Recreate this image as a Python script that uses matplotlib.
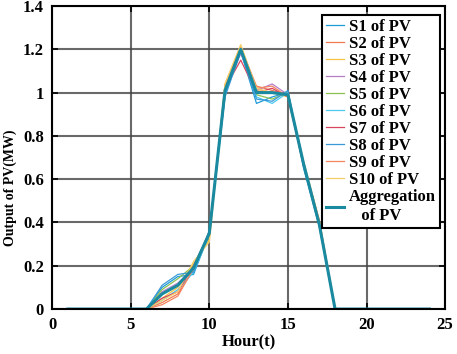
import numpy as np
import matplotlib
matplotlib.use("Agg")
import matplotlib.pyplot as plt
from matplotlib.ticker import FuncFormatter

plt.rcParams['font.family'] = ['Liberation Serif', 'DejaVu Serif']
plt.rcParams['font.weight'] = 'bold'

hours = list(range(1, 25))

s1  = [0, 0, 0, 0, 0, 0, 0.10, 0.15, 0.16, 0.35, 0.99, 1.19, 0.95, 0.98, 1.00, 0.66, 0.39, 0, 0, 0, 0, 0, 0, 0]
s2  = [0, 0, 0, 0, 0, 0, 0.03, 0.07, 0.18, 0.34, 1.03, 1.21, 1.03, 1.01, 0.99, 0.67, 0.40, 0, 0, 0, 0, 0, 0, 0]
s3  = [0, 0, 0, 0, 0, 0, 0.05, 0.10, 0.21, 0.32, 1.04, 1.22, 1.01, 1.00, 0.98, 0.68, 0.41, 0, 0, 0, 0, 0, 0, 0]
s4  = [0, 0, 0, 0, 0, 0, 0.08, 0.12, 0.19, 0.36, 1.01, 1.18, 1.01, 1.04, 0.99, 0.66, 0.39, 0, 0, 0, 0, 0, 0, 0]
s5  = [0, 0, 0, 0, 0, 0, 0.09, 0.14, 0.20, 0.35, 1.02, 1.20, 0.99, 0.97, 1.00, 0.67, 0.40, 0, 0, 0, 0, 0, 0, 0]
s6  = [0, 0, 0, 0, 0, 0, 0.04, 0.09, 0.17, 0.34, 1.00, 1.20, 0.98, 0.95, 1.00, 0.66, 0.38, 0, 0, 0, 0, 0, 0, 0]
s7  = [0, 0, 0, 0, 0, 0, 0.05, 0.08, 0.20, 0.35, 1.02, 1.15, 1.00, 1.02, 0.98, 0.66, 0.39, 0, 0, 0, 0, 0, 0, 0]
s8  = [0, 0, 0, 0, 0, 0, 0.11, 0.16, 0.17, 0.36, 0.98, 1.19, 0.97, 0.96, 1.01, 0.65, 0.38, 0, 0, 0, 0, 0, 0, 0]
s9  = [0, 0, 0, 0, 0, 0, 0.02, 0.06, 0.19, 0.35, 1.03, 1.21, 1.02, 1.03, 0.98, 0.67, 0.41, 0, 0, 0, 0, 0, 0, 0]
s10 = [0, 0, 0, 0, 0, 0, 0.04, 0.08, 0.22, 0.31, 1.04, 1.22, 1.02, 1.00, 0.99, 0.68, 0.40, 0, 0, 0, 0, 0, 0, 0]
agg = [0, 0, 0, 0, 0, 0, 0.07, 0.11, 0.19, 0.35, 1.01, 1.20, 1.00, 1.00, 0.99, 0.67, 0.39, 0, 0, 0, 0, 0, 0, 0]

series = [s1, s2, s3, s4, s5, s6, s7, s8, s9, s10]
labels = ['S%d of PV' % i for i in range(1, 11)]
colours = ['#1f9bd7', '#f07a50', '#f5c342', '#b77fc7', '#8cc152',
           '#4dc9f0', '#d9455f', '#3a9ad9', '#f5855e', '#f7cf6a']

fig = plt.figure(figsize=(4.57, 3.54), dpi=100)
ax = fig.add_axes([0.114, 0.127, 0.86, 0.856])

for s, lab, c in zip(series, labels, colours):
    ax.plot(hours, s, color=c, lw=0.9, label=lab)
ax.plot(hours, agg, color='#1a8aa0', lw=2.2, label='Aggregation\n   of PV')

ax.set_xlim(0, 25)
ax.set_ylim(0, 1.4)
ax.set_xticks(np.arange(0, 26, 5))
ax.set_yticks(np.arange(0, 1.41, 0.2))
ax.yaxis.set_major_formatter(FuncFormatter(lambda v, p: ('%.1f' % v).rstrip('0').rstrip('.')))
ax.grid(True, color='#444444', lw=1.5, alpha=0.8)
ax.set_axisbelow(True)
ax.tick_params(direction='in', top=True, right=True, labelsize=12, width=1.2, length=4, pad=6)
for sp in ax.spines.values():
    sp.set_linewidth(1.5)

ax.set_xlabel('Hour(t)', fontsize=12, fontweight='bold', labelpad=1)
ax.set_ylabel('Output of PV(MW)', fontsize=10, fontweight='bold')
ax.yaxis.set_label_coords(-0.089, 0.40)

leg = ax.legend(loc='upper right', bbox_to_anchor=(0.988, 0.97), fontsize=12,
                handlelength=1.1, handletextpad=0.3, labelspacing=0.06,
                borderpad=0.25, borderaxespad=0, fancybox=False, framealpha=1)
leg.get_frame().set_edgecolor('black')
leg.get_frame().set_linewidth(1.5)

fig.savefig('out.png', dpi=100)
